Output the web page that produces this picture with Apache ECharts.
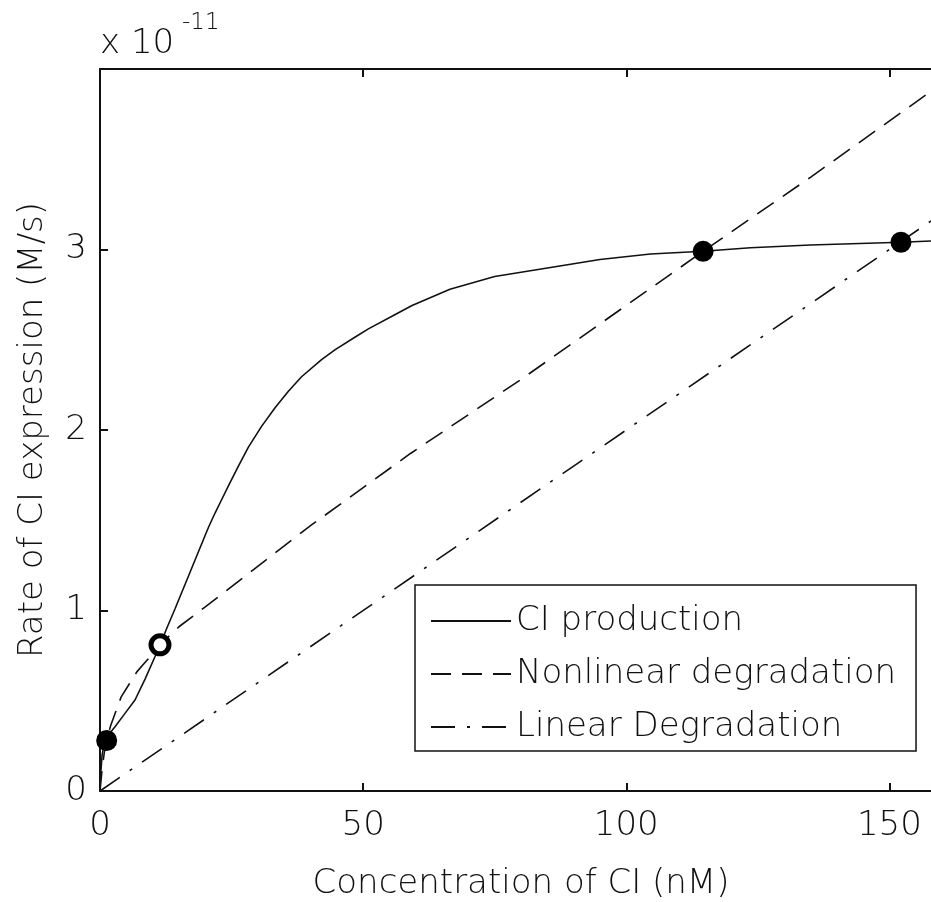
<!DOCTYPE html>
<html>
<head>
<meta charset="utf-8">
<script src="https://cdn.jsdelivr.net/npm/echarts@6/dist/echarts.min.js"></script>
<style>
  html, body { margin: 0; padding: 0; background: #fff; }
  #chart { width: 931px; height: 902px; }
</style>
</head>
<body>
<div id="chart"></div>
<script>
// values in units of 1e-11 M/s, x in nM
var prodX = [0, 0.2, 0.4, 0.8, 1.27, 1.6, 2.85, 4.75, 6.65, 8.56, 10.46, 11.4, 12.67, 14.26, 15.53, 16.8, 18.06, 19.33, 20.6, 21.86, 23.13, 24.4, 26.3, 28.2, 30.7, 33.3, 35.8, 38.3, 42.1, 44.7, 48.5, 51, 56.1, 59.3, 66.5, 75, 85.6, 95, 104.6, 114.6, 123.6, 135, 152.2, 160];
var prodY = [0.07, 0.12, 0.2, 0.26, 0.28, 0.31, 0.356, 0.43, 0.504, 0.62, 0.745, 0.809, 0.9, 1.01, 1.1, 1.19, 1.28, 1.37, 1.46, 1.54, 1.615, 1.69, 1.8, 1.905, 2.02, 2.125, 2.215, 2.295, 2.39, 2.445, 2.515, 2.56, 2.64, 2.69, 2.78, 2.85, 2.9, 2.945, 2.975, 2.99, 3.01, 3.025, 3.04, 3.05];

var nonlinX = [0, 0.4, 0.8, 1.27, 2, 3, 4, 5.5, 7, 8.5, 10, 11.4, 15, 20, 28, 40, 59, 80, 100, 114.6, 135, 160];
var nonlinY = [0, 0.12, 0.21, 0.28, 0.36, 0.44, 0.52, 0.59, 0.66, 0.71, 0.76, 0.81, 0.91, 1.02, 1.2, 1.47, 1.87, 2.28, 2.69, 2.99, 3.4, 3.92];

var linX = [0, 160];
var linY = [0, 3.2];

// fixed points
var stableX = [1.27, 114.6, 152.2];
var stableY = [0.28, 2.99, 3.04];
var unstableX = [11.4];
var unstableY = [0.81];

var xTicks = [0, 50, 100, 150];
var yTicks = [0, 1, 2, 3];

function pairs(xs, ys) {
    return xs.map(function (x, i) { return [x, ys[i]]; });
}

var font = 'DejaVu Sans';
var ink = '#111';

var chart = echarts.init(document.getElementById('chart'));
chart.setOption({
    animation: false,
    backgroundColor: '#fff',
    grid: {
        left: 100,
        top: 69,
        right: -11,
        bottom: 111,
        show: false,
        containLabel: false,
        outerBoundsMode: 'none'
    },
    graphic: [
        {
            type: 'text',
            left: 100,
            top: 27,
            style: { text: 'x 10', fontFamily: font, fontSize: 34, fontWeight: 200, fill: ink }
        },
        {
            type: 'text',
            left: 182,
            top: 12,
            style: { text: '-11', fontFamily: font, fontSize: 23, fontWeight: 200, fill: ink }
        }
    ],
    legend: {
        data: ['CI production', 'Nonlinear degradation', 'Linear Degradation'],
        orient: 'vertical',
        left: 415,
        top: 585,
        padding: [19, 20, 7, 15],
        itemGap: 19,
        itemWidth: 80,
        itemHeight: 36,
        backgroundColor: '#fff',
        borderColor: ink,
        borderWidth: 1.5,
        borderRadius: 0,
        selectedMode: false,
        itemStyle: { opacity: 0 },
        textStyle: { fontFamily: font, fontSize: 34, fontWeight: 200, color: ink }
    },
    xAxis: [
        {
            type: 'value',
            min: 0,
            max: 160,
            interval: 50,
            name: 'Concentration of CI (nM)',
            nameLocation: 'middle',
            nameGap: 76,
            nameTextStyle: { fontFamily: font, fontSize: 34, fontWeight: 200, color: ink },
            axisLine: { show: true, lineStyle: { color: ink, width: 2 } },
            axisTick: { show: true, inside: true, length: 8, lineStyle: { color: ink, width: 2 } },
            axisLabel: {
                fontFamily: font, fontSize: 34, fontWeight: 200, color: ink, margin: 18,
                formatter: function (v) { return xTicks.indexOf(v) >= 0 ? String(v) : ''; }
            },
            splitLine: { show: false }
        },
        {
            type: 'value',
            position: 'top',
            min: 0,
            max: 160,
            interval: 50,
            axisLine: { show: true, lineStyle: { color: ink, width: 2 } },
            axisTick: { show: true, inside: true, length: 8, lineStyle: { color: ink, width: 2 } },
            axisLabel: { show: false },
            splitLine: { show: false }
        }
    ],
    yAxis: {
        type: 'value',
        min: 0,
        max: 4,
        interval: 1,
        name: 'Rate of CI expression (M/s)',
        nameLocation: 'middle',
        nameGap: 50,
        nameTextStyle: { fontFamily: font, fontSize: 34, fontWeight: 200, color: ink },
        axisLine: { show: true, lineStyle: { color: ink, width: 2 } },
        axisTick: { show: true, inside: true, length: 8, lineStyle: { color: ink, width: 2 } },
        axisLabel: {
            fontFamily: font, fontSize: 34, fontWeight: 200, color: ink, margin: 13,
            formatter: function (v) { return yTicks.indexOf(v) >= 0 ? String(v) : ''; }
        },
        splitLine: { show: false }
    },
    series: [
        {
            name: 'CI production',
            type: 'line',
            data: pairs(prodX, prodY),
            symbol: 'none',
            lineStyle: { color: ink, width: 1.6, type: 'solid' },
            itemStyle: { color: ink }
        },
        {
            name: 'Nonlinear degradation',
            type: 'line',
            data: pairs(nonlinX, nonlinY),
            symbol: 'none',
            lineStyle: { color: ink, width: 1.6, type: [20, 11] },
            itemStyle: { color: ink }
        },
        {
            name: 'Linear Degradation',
            type: 'line',
            data: pairs(linX, linY),
            symbol: 'none',
            lineStyle: { color: ink, width: 1.6, type: [24, 12, 3, 12] },
            itemStyle: { color: ink }
        },
        {
            name: 'stable',
            type: 'scatter',
            data: pairs(stableX, stableY),
            symbol: 'circle',
            symbolSize: 21,
            itemStyle: { color: '#000', opacity: 1 },
            z: 5
        },
        {
            name: 'unstable',
            type: 'scatter',
            data: pairs(unstableX, unstableY),
            symbol: 'circle',
            symbolSize: 18,
            itemStyle: { color: '#fff', borderColor: '#000', borderWidth: 5, opacity: 1 },
            z: 5
        }
    ]
});
</script>
</body>
</html>
